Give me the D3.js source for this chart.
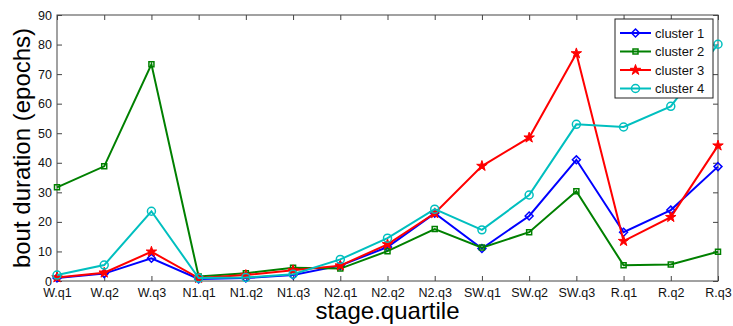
<!DOCTYPE html>
<html>
<head>
<meta charset="utf-8">
<script src="https://cdn.jsdelivr.net/npm/d3@7"></script>
<style>
  body { margin: 0; background: #fff; }
  svg { font-family: "Liberation Sans", Arial, sans-serif; }
</style>
</head>
<body>
<svg id="chart" width="733" height="326"></svg>
<script>
const stages = ["W.q1", "W.q2", "W.q3", "N1.q1", "N1.q2", "N1.q3", "N2.q1", "N2.q2",
  "N2.q3", "SW.q1", "SW.q2", "SW.q3", "R.q1", "R.q2", "R.q3"];
const yTicks = [0, 10, 20, 30, 40, 50, 60, 70, 80, 90];

const cluster1 = [1.0, 2.5, 7.7, 0.7, 1.0, 2.0, 5.2, 11.5, 22.9, 11.0, 22.0, 41.0, 16.5, 24.0, 38.7];
const cluster2 = [31.7, 38.8, 73.3, 1.5, 2.6, 4.5, 4.2, 10.1, 17.6, 11.3, 16.5, 30.4, 5.3, 5.6, 9.9];
const cluster3 = [1.2, 2.8, 9.9, 1.0, 2.0, 3.6, 5.2, 12.4, 22.9, 38.9, 48.5, 77.0, 13.5, 21.6, 45.8];
const cluster4 = [2.0, 5.4, 23.6, 1.0, 1.2, 2.3, 7.3, 14.5, 24.3, 17.3, 29.1, 53.0, 52.1, 59.1, 80.1];

const series = [
  { name: "cluster 1", values: cluster1, color: "#0000ff", marker: "diamond" },
  { name: "cluster 2", values: cluster2, color: "#008000", marker: "square" },
  { name: "cluster 3", values: cluster3, color: "#ff0000", marker: "star" },
  { name: "cluster 4", values: cluster4, color: "#00bfbf", marker: "circle" }
];

const svg = d3.select("#chart");
const pLeft = 57, pRight = 718, pTop = 15, pBottom = 281;

const x = d3.scalePoint().domain(stages).range([pLeft, pRight]);
const y = d3.scaleLinear().domain([0, 90]).range([pBottom, pTop]);

// box with inward ticks on all four sides
svg.append("g")
  .attr("transform", `translate(0,${pBottom})`)
  .call(d3.axisBottom(x).tickSizeInner(-5).tickSizeOuter(0).tickPadding(7))
  .call(g => g.select(".domain").remove());
svg.append("g")
  .attr("transform", `translate(0,${pTop})`)
  .call(d3.axisTop(x).tickSizeInner(-5).tickSizeOuter(0).tickFormat(""))
  .call(g => g.select(".domain").remove());
svg.append("g")
  .attr("transform", `translate(${pLeft},0)`)
  .call(d3.axisLeft(y).tickValues(yTicks).tickSizeInner(-5).tickSizeOuter(0).tickPadding(5))
  .call(g => g.select(".domain").remove());
svg.append("g")
  .attr("transform", `translate(${pRight},0)`)
  .call(d3.axisRight(y).tickValues(yTicks).tickSizeInner(-5).tickSizeOuter(0).tickFormat(""))
  .call(g => g.select(".domain").remove());

svg.selectAll(".tick line").attr("stroke", "#444");
svg.selectAll(".tick text").attr("font-size", 12.5).attr("fill", "#111")
  .attr("font-family", "Liberation Sans, Arial, sans-serif");

svg.append("rect")
  .attr("x", pLeft).attr("y", pTop)
  .attr("width", pRight - pLeft).attr("height", pBottom - pTop)
  .attr("fill", "none").attr("stroke", "#444").attr("stroke-width", 1);

const symbols = {
  diamond: d3.symbol().type(d3.symbolDiamond2).size(40),
  square: d3.symbol().type(d3.symbolSquare2).size(32),
  star: d3.symbol().type(d3.symbolStar).size(34),
  circle: d3.symbol().type(d3.symbolCircle).size(50)
};

const line = d3.line().x((d, i) => x(stages[i])).y(d => y(d));

series.forEach(s => {
  const g = svg.append("g");
  g.append("path")
    .datum(s.values)
    .attr("d", line)
    .attr("fill", "none")
    .attr("stroke", s.color)
    .attr("stroke-width", 2);
  g.selectAll("path.m")
    .data(s.values)
    .join("path")
    .attr("class", "m")
    .attr("d", symbols[s.marker])
    .attr("transform", (d, i) => `translate(${x(stages[i])},${y(d)})`)
    .attr("fill", s.marker === "star" ? s.color : "none")
    .attr("stroke", s.color)
    .attr("stroke-width", s.marker === "star" ? 1 : 1.5);
});

// legend
const lg = svg.append("g");
lg.append("rect")
  .attr("x", 615).attr("y", 19).attr("width", 98).attr("height", 79)
  .attr("fill", "#fff").attr("stroke", "#222").attr("stroke-width", 1);
series.forEach((s, i) => {
  const ly = 33 + i * 18.5;
  lg.append("line")
    .attr("x1", 620).attr("x2", 651).attr("y1", ly).attr("y2", ly)
    .attr("stroke", s.color).attr("stroke-width", 2);
  lg.append("path")
    .attr("d", symbols[s.marker])
    .attr("transform", `translate(635.5,${ly})`)
    .attr("fill", s.marker === "star" ? s.color : "none")
    .attr("stroke", s.color).attr("stroke-width", s.marker === "star" ? 1 : 1.5);
  lg.append("text")
    .attr("x", 655).attr("y", ly + 4.5)
    .attr("font-size", 13).attr("fill", "#111")
    .text(s.name);
});

// axis titles
svg.append("text")
  .attr("x", (pLeft + pRight) / 2).attr("y", 319)
  .attr("text-anchor", "middle")
  .attr("font-size", 24).attr("fill", "#000")
  .text("stage.quartile");
svg.append("text")
  .attr("transform", `translate(30,${(pTop + pBottom) / 2}) rotate(-90)`)
  .attr("text-anchor", "middle")
  .attr("font-size", 24).attr("fill", "#000")
  .text("bout duration (epochs)");
</script>
</body>
</html>
